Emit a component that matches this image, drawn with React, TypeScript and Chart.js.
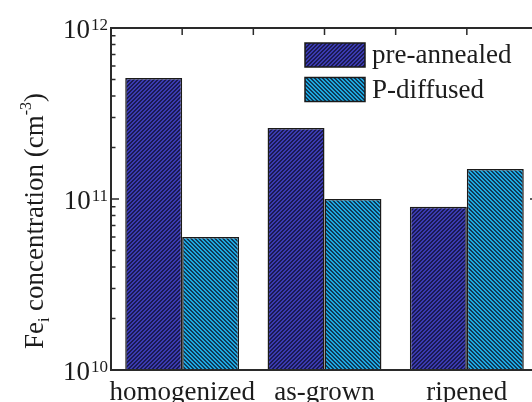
import React, { useEffect, useRef } from "react";
import { Chart, registerables } from "chart.js";

Chart.register(...registerables);

const categories = ["homogenized", "as-grown", "ripened"];
const seriesNames = ["pre-annealed", "P-diffused"];
const preAnnealed = [5.1e11, 2.6e11, 9.0e10];
const pDiffused = [6.0e10, 1.0e11, 1.5e11];
const yMajorTicks = [1e10, 1e11, 1e12];
const yTickExponents = ["10", "11", "12"];

const FONT = "'Liberation Serif', 'DejaVu Serif', serif";
const TEXT = "#1c1c1c";

function makeHatch(light: string, dark: string, dir: number) {
  const c = document.createElement("canvas");
  c.width = 4;
  c.height = 4;
  const g = c.getContext("2d")!;
  for (let yy = 0; yy < 4; yy++) {
    for (let xx = 0; xx < 4; xx++) {
      const k = dir > 0 ? (xx + yy) % 4 : (((xx - yy) % 4) + 4) % 4;
      g.fillStyle = k < 2 ? dark : light;
      g.fillRect(xx, yy, 1, 1);
    }
  }
  return g.createPattern(c, "repeat")!;
}

const decoPlugin = {
  id: "deco",
  afterDatasetsDraw(chart: any) {
    const { ctx, chartArea: a } = chart;
    const x = chart.scales.x;
    const y = chart.scales.y;
    ctx.save();

    // frame
    ctx.strokeStyle = "#2a2a2a";
    ctx.lineWidth = 2;
    ctx.strokeRect(a.left, a.top, a.right - a.left, a.bottom - a.top);

    // top ticks (inward)
    ctx.lineWidth = 1.5;
    const n = categories.length;
    const topTicks: number[] = [];
    for (let i = 0; i < n; i++) topTicks.push(x.getPixelForValue(i));
    for (let i = 0; i < n - 1; i++)
      topTicks.push((x.getPixelForValue(i) + x.getPixelForValue(i + 1)) / 2);
    ctx.beginPath();
    topTicks.forEach((px) => {
      ctx.moveTo(px, a.top);
      ctx.lineTo(px, a.top + 7);
    });
    ctx.stroke();

    // left / right log ticks (inward)
    ctx.beginPath();
    for (let d = 10; d < 12; d++) {
      for (let m = 1; m <= 9; m++) {
        const v = m * Math.pow(10, d);
        const py = y.getPixelForValue(v);
        const len = m === 1 ? 8 : 4.5;
        ctx.moveTo(a.left, py);
        ctx.lineTo(a.left + len, py);
        ctx.moveTo(a.right, py);
        ctx.lineTo(a.right - len, py);
      }
    }
    ctx.stroke();

    // y tick labels 10^n
    ctx.fillStyle = TEXT;
    ctx.textBaseline = "alphabetic";
    yMajorTicks.forEach((v, i) => {
      const py = y.getPixelForValue(v);
      ctx.font = `17px ${FONT}`;
      const exp = yTickExponents[i];
      const wExp = ctx.measureText(exp).width;
      const rightEdge = a.left - 3;
      ctx.textAlign = "left";
      ctx.fillText(exp, rightEdge - wExp, py + 2);
      ctx.font = `27px ${FONT}`;
      ctx.textAlign = "right";
      ctx.fillText("10", rightEdge - wExp - 1, py + 10);
    });

    // category labels
    ctx.font = `27px ${FONT}`;
    ctx.textAlign = "center";
    categories.forEach((lab, i) => {
      ctx.fillText(lab, x.getPixelForValue(i), a.bottom + 30);
    });

    // y axis title
    const parts = [
      { t: "Fe", s: 27, dy: 0 },
      { t: "i", s: 16, dy: 6 },
      { t: " concentration (cm", s: 27, dy: 0 },
      { t: "-3", s: 16, dy: -12 },
      { t: ")", s: 27, dy: 0 },
    ];
    let total = 0;
    parts.forEach((p) => {
      ctx.font = `${p.s}px ${FONT}`;
      total += ctx.measureText(p.t).width;
    });
    ctx.save();
    ctx.translate(43, 221);
    ctx.rotate(-Math.PI / 2);
    ctx.textAlign = "left";
    let cx = -total / 2;
    parts.forEach((p) => {
      ctx.font = `${p.s}px ${FONT}`;
      ctx.fillText(p.t, cx, p.dy);
      cx += ctx.measureText(p.t).width;
    });
    ctx.restore();

    // legend
    const ds = chart.data.datasets;
    const boxX = 305;
    const boxW = 60;
    const boxH = 24;
    const rowY = [43, 77.5];
    ds.forEach((d: any, i: number) => {
      ctx.fillStyle = d.backgroundColor;
      ctx.fillRect(boxX, rowY[i], boxW, boxH);
      ctx.strokeStyle = "#1a1a1a";
      ctx.lineWidth = 1.5;
      ctx.strokeRect(boxX, rowY[i], boxW, boxH);
      ctx.fillStyle = TEXT;
      ctx.font = `27px ${FONT}`;
      ctx.textAlign = "left";
      ctx.fillText(d.label, boxX + boxW + 7, rowY[i] + 20);
    });

    ctx.restore();
  },
};

export default function App() {
  const ref = useRef<HTMLCanvasElement | null>(null);

  useEffect(() => {
    if (!ref.current) return;
    const navy = makeHatch("#3a3ab0", "#1a1a52", 1);
    const cyan = makeHatch("#1ea8e0", "#0e3a5a", -1);
    const chart = new Chart(ref.current, {
      type: "bar",
      data: {
        labels: categories,
        datasets: [
          {
            label: seriesNames[0],
            data: preAnnealed,
            backgroundColor: navy as any,
            borderColor: "#1a1a1a",
            borderWidth: 1.5,
            categoryPercentage: 0.8,
            barPercentage: 1,
          },
          {
            label: seriesNames[1],
            data: pDiffused,
            backgroundColor: cyan as any,
            borderColor: "#1a1a1a",
            borderWidth: 1.5,
            categoryPercentage: 0.8,
            barPercentage: 1,
          },
        ],
      },
      options: {
        responsive: false,
        animation: false,
        devicePixelRatio: 1,
        layout: { padding: { left: 111, top: 28, right: 10, bottom: 32 } },
        plugins: {
          legend: { display: false },
          tooltip: { enabled: false },
        },
        scales: {
          x: { display: false, offset: true },
          y: { type: "logarithmic", display: false, min: 1e10, max: 1e12 },
        },
      },
      plugins: [decoPlugin],
    });
    return () => chart.destroy();
  }, []);

  return (
    <div
      style={{
        position: "fixed",
        left: 0,
        top: 0,
        width: 532,
        height: 402,
        overflow: "hidden",
        background: "#fff",
      }}
    >
      <canvas ref={ref} width={548} height={402} style={{ display: "block" }} />
    </div>
  );
}
